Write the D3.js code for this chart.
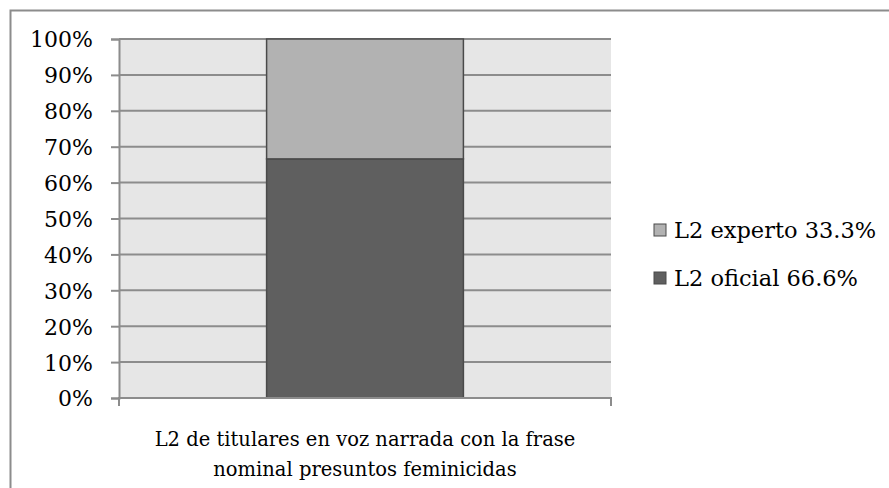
<!DOCTYPE html>
<html>
<head>
<meta charset="utf-8">
<script src="https://cdn.jsdelivr.net/npm/d3@7"></script>
<style>
  body { margin: 0; background: #fff; }
  svg text { font-family: "DejaVu Serif", "Liberation Serif", serif; fill: #000; }
</style>
</head>
<body>
<div id="chart1"></div>
<script>
var category = "L2 de titulares en voz narrada con la frase nominal presuntos feminicidas";
var categoryLines = ["L2 de titulares en voz narrada con la frase", "nominal presuntos feminicidas"];
var seriesNames = ["L2 oficial 66.6%", "L2 experto 33.3%"];
var seriesValues = [66.6, 33.4];
var seriesColors = ["#5f5f5f", "#b2b2b2"];
var yTicks = [0, 10, 20, 30, 40, 50, 60, 70, 80, 90, 100];

var width = 889, height = 488;

var svg = d3.select("#chart1")
    .append("svg")
    .attr("width", width)
    .attr("height", height);

// outer frame (runs off the right and bottom)
svg.append("rect")
    .attr("x", 10.5).attr("y", 10.5)
    .attr("width", width + 10).attr("height", height + 10)
    .attr("fill", "none")
    .attr("stroke", "#8c8c8c")
    .attr("stroke-width", 2);

var plotLeft = 119, plotRight = 611, plotTop = 39, plotBottom = 398;

var x = d3.scaleBand()
    .domain([category])
    .range([plotLeft, plotRight])
    .paddingInner(0.6)
    .paddingOuter(0.3);

var y = d3.scaleLinear()
    .domain([0, 100])
    .range([plotBottom, plotTop]);

svg.append("rect")
    .attr("x", plotLeft).attr("y", plotTop)
    .attr("width", plotRight - plotLeft).attr("height", plotBottom - plotTop)
    .attr("fill", "#e6e6e6");

var yAxis = svg.append("g")
    .attr("transform", "translate(" + plotLeft + ",0)")
    .call(d3.axisLeft(y).tickValues(yTicks)
        .tickSize(8)
        .tickFormat(function(d) { return d + "%"; }));

yAxis.select(".domain").attr("stroke", "#8c8c8c").attr("stroke-width", 2);
yAxis.selectAll(".tick line").attr("stroke", "#8c8c8c").attr("stroke-width", 2);
yAxis.selectAll(".tick text")
    .attr("x", -26)
    .attr("dy", "0.36em")
    .style("font-size", "22px");

// gridlines
svg.append("g")
    .selectAll("line")
    .data(yTicks.filter(function(d) { return d > 0; }))
    .enter().append("line")
    .attr("x1", plotLeft).attr("x2", plotRight)
    .attr("y1", function(d) { return y(d); })
    .attr("y2", function(d) { return y(d); })
    .attr("stroke", "#8c8c8c")
    .attr("stroke-width", 2);

// stacked bar
var stacked = [];
var acc = 0;
seriesValues.forEach(function(v, i) {
    stacked.push({ y0: acc, y1: acc + v, color: seriesColors[i] });
    acc += v;
});

svg.selectAll("rect.seg")
    .data(stacked)
    .enter().append("rect")
    .attr("class", "seg")
    .attr("x", x(category))
    .attr("width", x.bandwidth())
    .attr("y", function(d) { return y(d.y1); })
    .attr("height", function(d) { return y(d.y0) - y(d.y1); })
    .attr("fill", function(d) { return d.color; })
    .attr("stroke", "#4a4a4a")
    .attr("stroke-width", 1.5);

// x axis
svg.append("line")
    .attr("x1", plotLeft - 1).attr("x2", plotRight + 1)
    .attr("y1", plotBottom).attr("y2", plotBottom)
    .attr("stroke", "#8c8c8c").attr("stroke-width", 2);
[plotLeft, plotRight].forEach(function(px) {
    svg.append("line")
        .attr("x1", px).attr("x2", px)
        .attr("y1", plotBottom).attr("y2", plotBottom + 8)
        .attr("stroke", "#8c8c8c").attr("stroke-width", 2);
});

svg.append("text")
    .attr("text-anchor", "middle")
    .style("font-size", "19.5px")
    .selectAll("tspan")
    .data(categoryLines)
    .enter().append("tspan")
    .attr("x", (plotLeft + plotRight) / 2)
    .attr("y", function(d, i) { return 446 + i * 30; })
    .text(function(d) { return d; });

// legend (reverse order, top = experto)
var legendItems = seriesNames.map(function(n, i) { return { name: n, color: seriesColors[i] }; }).reverse();
var legend = svg.selectAll("g.legend")
    .data(legendItems)
    .enter().append("g")
    .attr("class", "legend")
    .attr("transform", function(d, i) { return "translate(654," + (238 + i * 48) + ")"; });

legend.append("rect")
    .attr("x", 0).attr("y", -14)
    .attr("width", 12).attr("height", 12)
    .attr("fill", function(d) { return d.color; })
    .attr("stroke", "#4a4a4a")
    .attr("stroke-width", 1);

legend.append("text")
    .attr("x", 20)
    .attr("y", 0)
    .style("font-size", "22.5px")
    .text(function(d) { return d.name; });
</script>
</body>
</html>
